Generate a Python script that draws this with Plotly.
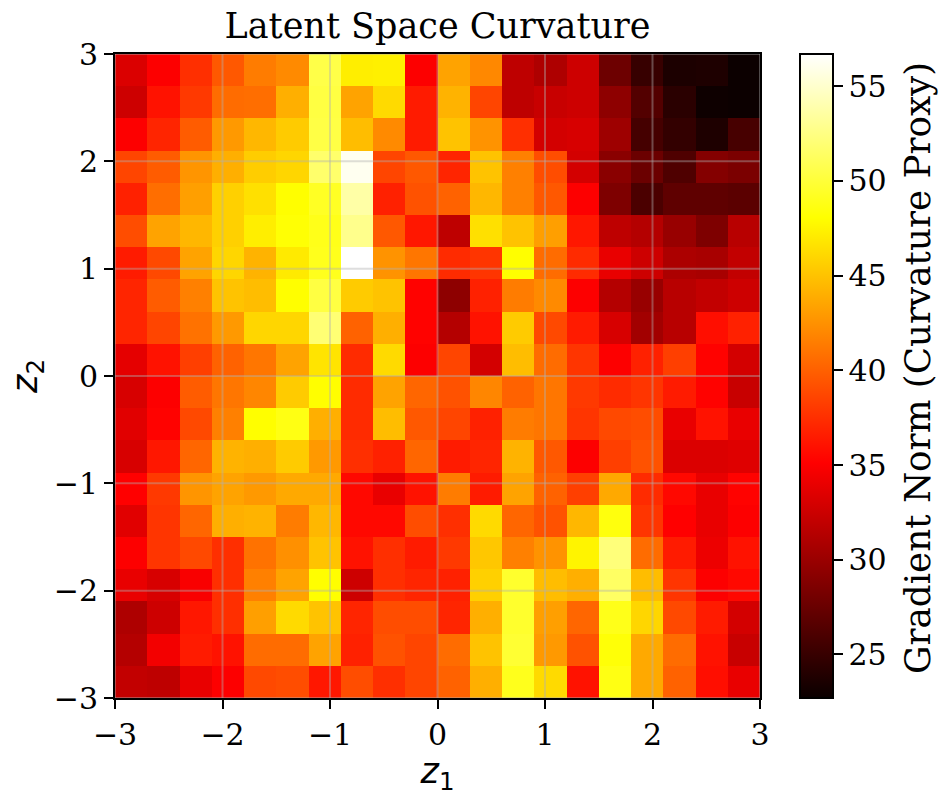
import plotly.graph_objects as go

title = "Latent Space Curvature"
colorbar_title = "Gradient Norm (Curvature Proxy)"
x_centers = [-2.85, -2.55, -2.25, -1.95, -1.65, -1.35, -1.05, -0.75, -0.45, -0.15,
             0.15, 0.45, 0.75, 1.05, 1.35, 1.65, 1.95, 2.25, 2.55, 2.85]
y_centers = list(x_centers)
ticks = [-3, -2, -1, 0, 1, 2, 3]
cbar_ticks = [25, 30, 35, 40, 45, 50, 55]

# rows listed from the top of the picture (z2 = 3) to the bottom (z2 = -3)
z_rows_top_down = [
    [33.3, 35.0, 37.5, 39.6, 41.4, 42.1, 50.5, 47.2, 47.3, 35.0, 43.4, 42.0, 31.8, 31.0, 32.6, 27.7, 25.0, 23.6, 23.7, 22.8],
    [32.6, 36.0, 38.0, 40.6, 40.7, 44.0, 50.3, 43.4, 46.2, 36.5, 44.2, 38.6, 31.8, 32.3, 32.6, 29.4, 26.4, 24.3, 22.9, 22.8],
    [35.0, 37.0, 39.8, 42.9, 44.4, 45.4, 50.4, 44.7, 42.1, 36.5, 45.0, 42.6, 37.5, 32.9, 33.1, 30.2, 25.7, 24.8, 23.7, 25.8],
    [38.6, 39.8, 42.7, 44.0, 45.5, 46.0, 51.7, 56.2, 38.6, 39.6, 37.0, 45.0, 41.6, 39.0, 32.9, 29.2, 27.6, 26.2, 28.9, 28.4],
    [36.8, 40.7, 43.2, 45.7, 46.5, 48.0, 49.3, 53.7, 36.8, 39.3, 40.1, 44.4, 41.6, 39.6, 35.0, 28.6, 26.0, 27.0, 27.0, 26.8],
    [39.0, 43.4, 44.4, 45.7, 47.2, 48.2, 48.9, 52.8, 39.6, 36.3, 31.8, 46.5, 45.0, 43.2, 36.3, 31.8, 31.3, 29.9, 28.6, 31.5],
    [36.5, 38.8, 43.4, 46.0, 44.2, 47.0, 49.0, 56.7, 42.6, 41.1, 37.3, 37.8, 48.0, 40.6, 37.3, 34.0, 32.6, 30.9, 30.7, 32.0],
    [37.0, 39.8, 41.6, 45.0, 44.7, 48.0, 50.3, 45.4, 45.0, 35.2, 29.4, 36.8, 41.4, 42.1, 35.0, 31.3, 29.9, 31.5, 32.0, 32.6],
    [37.0, 38.6, 40.9, 42.9, 46.0, 46.0, 52.0, 40.1, 44.0, 35.2, 31.3, 36.0, 45.4, 38.8, 36.5, 33.1, 30.4, 31.5, 35.8, 36.8],
    [33.8, 36.0, 38.3, 40.1, 41.1, 43.4, 46.7, 37.3, 46.2, 35.0, 38.6, 32.9, 44.7, 40.6, 37.8, 35.0, 36.8, 38.3, 35.2, 32.9],
    [33.1, 35.0, 39.8, 41.1, 41.9, 45.4, 48.0, 37.3, 43.4, 40.3, 39.3, 41.9, 40.1, 41.1, 38.0, 37.3, 37.8, 36.5, 35.2, 32.3],
    [33.6, 35.2, 38.8, 41.6, 48.0, 48.7, 44.0, 37.3, 44.7, 39.6, 38.6, 36.8, 41.4, 41.1, 37.8, 38.8, 39.0, 34.0, 36.0, 34.0],
    [33.1, 36.3, 40.3, 44.2, 44.0, 45.4, 42.9, 37.5, 36.8, 40.3, 36.5, 37.0, 44.2, 39.6, 35.0, 38.3, 39.3, 33.3, 33.3, 33.5],
    [35.1, 38.0, 42.7, 43.4, 42.9, 43.7, 43.7, 35.5, 34.0, 36.0, 41.4, 36.5, 43.4, 40.1, 38.3, 43.7, 37.3, 35.5, 34.0, 35.2],
    [33.6, 37.8, 40.3, 44.0, 44.2, 41.4, 44.4, 35.5, 35.5, 39.0, 37.5, 46.2, 40.3, 39.3, 44.4, 48.5, 37.8, 35.1, 34.0, 35.0],
    [35.0, 37.8, 38.8, 37.5, 40.9, 42.4, 45.0, 36.0, 37.5, 36.5, 38.0, 45.2, 41.6, 42.6, 47.5, 52.2, 40.6, 36.5, 34.2, 36.0],
    [34.0, 33.1, 34.8, 37.5, 41.6, 43.4, 48.0, 32.6, 37.5, 37.0, 36.8, 45.7, 49.6, 44.7, 44.0, 51.4, 44.7, 37.8, 35.0, 35.5],
    [31.0, 32.6, 36.3, 37.5, 43.2, 46.2, 45.0, 37.0, 39.0, 39.0, 37.0, 44.0, 49.6, 43.2, 40.3, 48.9, 46.0, 38.8, 36.5, 32.9],
    [31.3, 34.5, 36.5, 36.0, 40.6, 40.6, 43.4, 36.8, 39.3, 38.6, 40.6, 45.0, 49.8, 42.9, 39.3, 48.3, 43.7, 40.6, 36.0, 32.3],
    [32.0, 31.8, 34.0, 35.0, 38.8, 39.0, 36.3, 39.0, 37.5, 38.6, 40.1, 44.0, 49.0, 46.2, 36.0, 48.7, 43.7, 40.1, 35.8, 34.0],
]
z_min = 22.7
z_max = 56.7

# matplotlib "hot" colormap
hot = [[0.0, "rgb(10,0,0)"], [0.365, "rgb(255,0,0)"], [0.746, "rgb(255,255,0)"], [1.0, "rgb(255,255,255)"]]

SERIF = "DejaVu Serif"
TICK = 30
LABEL = 35

fig = go.Figure(go.Heatmap(
    x=x_centers,
    y=y_centers,
    z=z_rows_top_down[::-1],
    zmin=z_min,
    zmax=z_max,
    colorscale=hot,
    zsmooth=False,
    colorbar=dict(
        x=(800 - 115) / 645, xanchor="left", xpad=0, ypad=0,
        y=0.5, yanchor="middle", len=1, lenmode="fraction",
        thickness=33, thicknessmode="pixels",
        outlinecolor="black", outlinewidth=2,
        tickmode="array", tickvals=cbar_ticks,
        ticks="outside", ticklen=9, tickwidth=2, tickcolor="black",
        tickfont=dict(family=SERIF, size=TICK, color="black"),
    ),
))

axis = dict(
    range=[-3, 3], tickmode="array", tickvals=ticks,
    ticks="outside", ticklen=9, tickwidth=2, tickcolor="black",
    showline=True, linecolor="black", linewidth=2, mirror=True,
    showgrid=False, zeroline=False,
    tickfont=dict(family=SERIF, size=TICK, color="black"),
)

grid = [dict(type="line", xref="x", yref="paper", x0=t, x1=t, y0=0, y1=1,
             line=dict(color="rgba(176,176,176,0.42)", width=2), layer="above") for t in ticks]
grid += [dict(type="line", xref="paper", yref="y", x0=0, x1=1, y0=t, y1=t,
              line=dict(color="rgba(176,176,176,0.42)", width=2), layer="above") for t in ticks]

fig.update_layout(
    width=940, height=796,
    margin=dict(l=115, r=180, t=54, b=98, pad=0, autoexpand=False),
    paper_bgcolor="white", plot_bgcolor="white",
    title=dict(text=title, x=(437.5) / 940, xanchor="center", y=1 - 26 / 796, yanchor="middle",
               font=dict(family=SERIF, size=LABEL, color="black")),
    xaxis=dict(axis, automargin=False, title=dict(text="<i>z</i><sub>1</sub>", standoff=6,
                                font=dict(family="DejaVu Sans", size=LABEL, color="black"))),
    yaxis=dict(axis, automargin=False, title=dict(text="<i>z</i><sub>2</sub>", standoff=6,
                                font=dict(family="DejaVu Sans", size=LABEL, color="black"))),
    shapes=grid,
    annotations=[dict(
        text=colorbar_title, textangle=-90, showarrow=False,
        xref="paper", yref="paper", x=(917 - 115) / 645, y=(698 - 368) / 644,
        xanchor="center", yanchor="middle",
        font=dict(family=SERIF, size=35.7, color="black"),
    )],
)

fig.write_html("out.html", post_script="document.body.style.margin='0';",
               config=dict(displayModeBar=False))
